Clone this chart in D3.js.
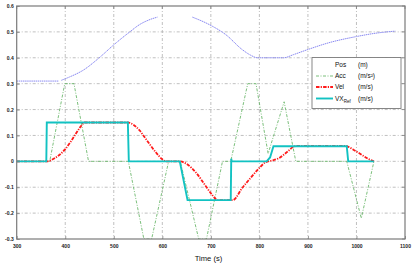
<!DOCTYPE html>
<html><head><meta charset="utf-8">
<script src="https://cdn.jsdelivr.net/npm/d3@7"></script>
<style>
html,body{margin:0;padding:0;background:#fff;}
svg{display:block;font-family:"Liberation Sans",Arial,sans-serif;}
</style></head>
<body>
<script>
// ---- data ----
const xTicks = [300,400,500,600,700,800,900,1000,1100];
const yTicks = [-0.3,-0.2,-0.1,0,0.1,0.2,0.3,0.4,0.5,0.6];
const yTickLabels = ["-0.3","-0.2","-0.1","0","0.1","0.2","0.3","0.4","0.5","0.6"];
const posSeg1 = [[300,0.31],[387,0.31]];
const posSeg2 = [[392,0.313],[409,0.326],[437,0.352],[470,0.40],[500,0.45],[533,0.50],[553,0.528],[575,0.548],[590,0.557]];
const posSeg3 = [[662,0.557],[697,0.528],[731,0.489],[765,0.431],[782,0.41],[796,0.40],[850,0.40],[870,0.412],[900,0.432],[943,0.458],[1000,0.482],[1040,0.495],[1080,0.503]];
const accT = [300,368,399,418,448,530,562,578,613,637,675,691,724,741,776,793,818,851,875,980,1010,1036];
const accV = [0,0,0.3,0.3,0,0,-0.3,-0.3,0,0,-0.3,-0.3,0,0,0.3,0.3,0.03,0.23,0,0,-0.22,0];
const velT = [300,362,379,399,411,423,432,440,529,540,553,567,587,600,608,636,650,670,690,703,714,745,752,762,782,800,813,825,840,857,872,878,978,981,993,1005,1025,1036];
const velV = [0,0,0.013,0.045,0.075,0.11,0.135,0.15,0.15,0.142,0.12,0.084,0.034,0.008,0,0,-0.01,-0.045,-0.097,-0.13,-0.15,-0.15,-0.14,-0.11,-0.064,-0.025,-0.003,0.003,0.012,0.036,0.058,0.06,0.06,0.058,0.046,0.032,0.009,0];
const refT = [300,361,362,529,531,636,652,741,742,743,815,822,829,980,983,1036];
const refV = [0,0,0.15,0.15,0,0,-0.15,-0.15,0.01,0,0,0.015,0.058,0.058,0,0];

const W=415,H=266;
const L=16.7,R=405,T=6,B=239;
const x=d3.scaleLinear().domain([300,1100]).range([L,R]);
const y=d3.scaleLinear().domain([-0.3,0.6]).range([B,T]);

const svg=d3.select("body").append("svg").attr("width",W).attr("height",H);
svg.append("defs").append("clipPath").attr("id","clip")
  .append("rect").attr("x",L).attr("y",T).attr("width",R-L).attr("height",B-T);

// grid
const grid=svg.append("g");
grid.selectAll(".gx").data(xTicks.slice(1,-1)).join("line")
  .attr("x1",d=>x(d)).attr("x2",d=>x(d)).attr("y1",T).attr("y2",B)
  .attr("stroke","#b0b0b0").attr("stroke-width",0.8).attr("stroke-dasharray","3,2,1,2");
grid.selectAll(".gy").data(yTicks.slice(1,-1)).join("line")
  .attr("y1",d=>y(d)).attr("y2",d=>y(d)).attr("x1",L).attr("x2",R)
  .attr("stroke","#b0b0b0").attr("stroke-width",0.8).attr("stroke-dasharray","3,2,1,2");

const plot=svg.append("g").attr("clip-path","url(#clip)");
const lineS=d3.line().x(d=>x(d[0])).y(d=>y(d[1])).curve(d3.curveMonotoneX);
const lineL=d3.line().x(d=>x(d[0])).y(d=>y(d[1]));

// pos
[posSeg1,posSeg2,posSeg3].forEach(s=>{
  plot.append("path").attr("d",lineS(s)).attr("fill","none")
    .attr("stroke","#8a8af2").attr("stroke-width",1).attr("stroke-dasharray","1.5,0.6");
});
// acc
plot.append("path").attr("d",lineL(accT.map((t,i)=>[t,accV[i]]))).attr("fill","none")
  .attr("stroke","#6cb86c").attr("stroke-width",0.9).attr("stroke-dasharray","3,1.5,1,1.5");
// vel
plot.append("path").attr("d",lineS(velT.map((t,i)=>[t,velV[i]]))).attr("fill","none")
  .attr("stroke","#ff1a1a").attr("stroke-width",1.8).attr("stroke-dasharray","3.5,1.2,1.2,1.2");
// ref
plot.append("path").attr("d",lineL(refT.map((t,i)=>[t,refV[i]]))).attr("fill","none")
  .attr("stroke","#12c2c2").attr("stroke-width",1.9);

// axes
const ax=d3.axisBottom(x).tickValues(xTicks).tickSize(-3).tickPadding(5).tickFormat(d3.format("d"));
const gx=svg.append("g").attr("transform",`translate(0,${B})`).call(ax);
const ay=d3.axisLeft(y).tickValues(yTicks).tickSize(-3).tickPadding(3).tickFormat((d,i)=>yTickLabels[i]);
const gy=svg.append("g").attr("transform",`translate(${L},0)`).call(ay);
[gx,gy].forEach(g=>{
  g.select(".domain").remove();
  g.selectAll("line").attr("stroke","#808080").attr("stroke-width",0.8);
  g.selectAll("text").attr("font-size",5).attr("font-weight","bold").attr("fill","#222")
   .attr("font-family","'Liberation Sans',Arial,sans-serif");
});
// top/right ticks
svg.append("g").selectAll("line").data(xTicks).join("line")
  .attr("x1",d=>x(d)).attr("x2",d=>x(d)).attr("y1",T).attr("y2",T+3).attr("stroke","#808080").attr("stroke-width",0.8);
svg.append("g").selectAll("line").data(yTicks).join("line")
  .attr("y1",d=>y(d)).attr("y2",d=>y(d)).attr("x1",R).attr("x2",R-3).attr("stroke","#808080").attr("stroke-width",0.8);
// frame
svg.append("rect").attr("x",L).attr("y",T).attr("width",R-L).attr("height",B-T)
  .attr("fill","none").attr("stroke","#7a7a7a").attr("stroke-width",1.2);

svg.append("text").attr("x",208.5).attr("y",260.5).attr("text-anchor","middle")
  .attr("font-size",7.6).attr("fill","#111").text("Time (s)");

// legend
const lg=svg.append("g");
lg.append("rect").attr("x",312).attr("y",57.5).attr("width",89).attr("height",51)
  .attr("fill","#fff").attr("stroke","#7a7a7a").attr("stroke-width",0.9);
const items=[
  {name:"Pos",unit:"(m)",col:"#8a8af2",w:0,dash:null,yy:65},
  {name:"Acc",unit:"(m/s²)",col:"#6cb86c",w:0.9,dash:"3,1.5,1,1.5",yy:76},
  {name:"Vel",unit:"(m/s)",col:"#ff1a1a",w:1.8,dash:"3.5,1.2,1.2,1.2",yy:87},
  {name:"VX",sub:"Ref",unit:"(m/s)",col:"#12c2c2",w:1.9,dash:null,yy:98.5}
];
items.forEach(it=>{
  if(it.w>0){
    lg.append("line").attr("x1",316).attr("x2",333).attr("y1",it.yy).attr("y2",it.yy)
      .attr("stroke",it.col).attr("stroke-width",it.w).attr("stroke-dasharray",it.dash);
  }
  const t=lg.append("text").attr("x",335).attr("y",it.yy+2).attr("font-size",6.5).attr("fill","#111");
  t.append("tspan").text(it.name);
  if(it.sub) t.append("tspan").attr("font-size",4.5).attr("dy",2.5).text(it.sub);
  lg.append("text").attr("x",358).attr("y",it.yy+2).attr("font-size",6.5).attr("fill","#111").text(it.unit);
});
</script>
</body></html>
